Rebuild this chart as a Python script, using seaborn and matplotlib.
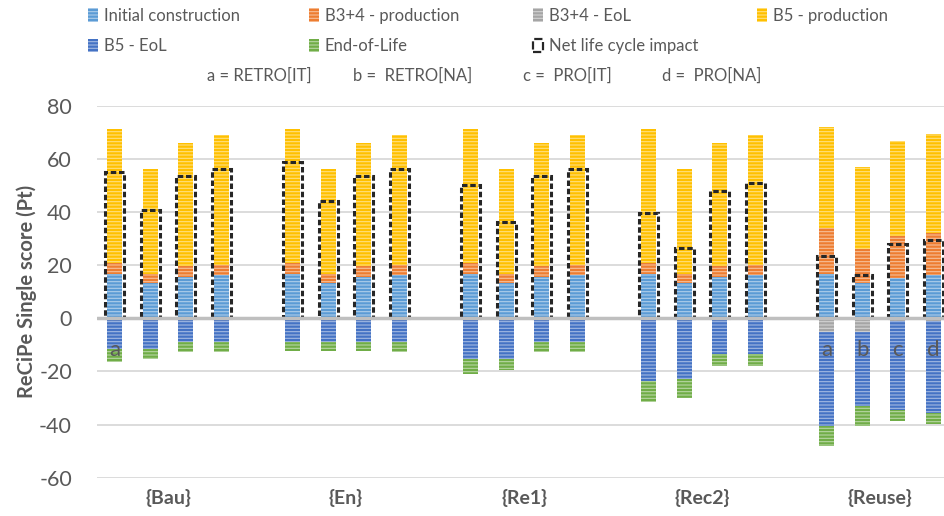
import pandas as pd
import seaborn as sns
import matplotlib.pyplot as plt
from matplotlib.patches import Patch

scenarios = ["{Bau}", "{En}", "{Re1}", "{Rec2}", "{Reuse}"]
variants = ["a", "b", "c", "d"]
variant_names = ["a = RETRO[IT]", "b =  RETRO[NA]", "c =  PRO[IT]", "d =  PRO[NA]"]

# values per scenario (rows) and variant a-d (columns), Pt
initial = [[16.6, 13.3, 15.5, 16.1],
           [16.6, 13.3, 15.5, 16.1],
           [16.6, 13.3, 15.5, 16.1],
           [16.6, 13.3, 15.5, 16.1],
           [16.6, 13.3, 15.1, 16.1]]
b34_prod = [[4.2, 3.3, 4.0, 4.0],
            [4.2, 3.3, 4.0, 4.0],
            [4.2, 3.3, 4.0, 4.0],
            [4.2, 3.3, 4.0, 4.0],
            [17.3, 12.7, 15.9, 15.9]]
b5_prod = [[50.6, 39.4, 46.6, 48.8],
           [50.6, 39.4, 46.6, 48.8],
           [50.6, 39.4, 46.6, 48.8],
           [50.6, 39.4, 46.6, 48.8],
           [38.1, 30.8, 35.8, 37.3]]
b34_eol = [[0, 0, 0, 0],
           [0, 0, 0, 0],
           [0, 0, 0, 0],
           [0, 0, 0, 0],
           [-5.2, -5.2, -1.0, -1.0]]
b5_eol = [[-11.7, -11.5, -9.0, -9.0],
          [-9.0, -9.0, -9.0, -9.0],
          [-15.5, -15.2, -9.0, -9.0],
          [-23.6, -22.7, -13.6, -13.6],
          [-35.3, -27.8, -33.6, -34.5]]
eol = [[-4.7, -4.0, -3.6, -3.6],
       [-3.4, -3.2, -3.4, -3.6],
       [-5.6, -4.3, -3.6, -3.6],
       [-7.9, -7.2, -4.4, -4.3],
       [-7.7, -7.5, -4.0, -4.4]]
net = [[54.9, 40.8, 53.5, 56.1],
       [58.9, 44.1, 53.6, 56.1],
       [50.1, 36.4, 53.5, 56.1],
       [39.8, 26.4, 48.0, 50.8],
       [23.6, 16.4, 28.0, 29.5]]

colors = {"Initial construction": "#5B9BD5", "B3+4 - production": "#ED7D31",
          "B3+4 - EoL": "#A5A5A5", "B5 - production": "#FFC000",
          "B5 - EoL": "#4472C4", "End-of-Life": "#70AD47"}

rows = []
for i, s in enumerate(scenarios):
    for j, v in enumerate(variants):
        rows.append(dict(scenario=s, variant=v,
                         ic=initial[i][j], p34=b34_prod[i][j], p5=b5_prod[i][j],
                         e34=b34_eol[i][j], e5=b5_eol[i][j], eol=eol[i][j],
                         net=net[i][j]))
df = pd.DataFrame(rows)
# cumulative stacks, drawn back to front
df["pos3"] = df.ic + df.p34 + df.p5
df["pos2"] = df.ic + df.p34
df["pos1"] = df.ic
df["neg3"] = df.e34 + df.e5 + df.eol
df["neg2"] = df.e34 + df.e5
df["neg1"] = df.e34

sns.set_theme(style="white")
plt.rcParams["font.family"] = ["Lato", "DejaVu Sans"]
plt.rcParams["hatch.linewidth"] = 0.8
plt.rcParams["axes.unicode_minus"] = False

fig = plt.figure(figsize=(9.45, 5.16), dpi=100)
ax = fig.add_axes([97 / 945, 38.3 / 516, 848 / 945, 372 / 516])

grey = "#595959"
stripe = (1, 1, 1, 0.5)

def layer(col, color):
    sns.barplot(data=df, x="scenario", y=col, hue="variant", order=scenarios,
                hue_order=variants, palette={v: color for v in variants},
                saturation=1, errorbar=None, width=0.8, gap=0.58, legend=False,
                hatch="-----", edgecolor=stripe, linewidth=0, ax=ax)

layer("pos3", colors["B5 - production"])
layer("pos2", colors["B3+4 - production"])
layer("pos1", colors["Initial construction"])
layer("neg3", colors["End-of-Life"])
layer("neg2", colors["B5 - EoL"])
layer("neg1", colors["B3+4 - EoL"])
ax.axhline(0, color="#BFBFBF", lw=2.5, zorder=1.5)

sns.barplot(data=df, x="scenario", y="net", hue="variant", order=scenarios,
            hue_order=variants, palette={v: "#262626" for v in variants},
            errorbar=None, width=0.8, gap=0.46, legend=False, fill=False,
            linewidth=2.2, linestyle=(0, (1.8, 0.9)), ax=ax)

# variant letters inside some bars
for i, s in enumerate(scenarios):
    for j, v in enumerate(variants):
        if s == "{Reuse}" or (s == "{Bau}" and v == "a"):
            ax.text(i - 0.3 + 0.2 * j, -12, v, ha="center", va="center",
                    fontsize=16, color=grey, zorder=5)

ax.set_xlim(-0.399, 4.365)
ax.set_ylim(-60, 80)
ax.set_yticks(range(-60, 81, 20))
ax.grid(axis="y", color="#D9D9D9", lw=1.3)
ax.set_axisbelow(True)
sns.despine(ax=ax, left=True, bottom=True)
ax.set_xlabel("")
ax.set_ylabel("")
ax.tick_params(axis="y", length=0, pad=18, labelsize=15.5, labelcolor=grey)
ax.tick_params(axis="x", length=0, pad=8, labelsize=14, labelcolor=grey)
for t in ax.get_xticklabels():
    t.set_fontweight("bold")

fig.text(27 / 945, 0.435, "ReCiPe Single score (Pt)", rotation=90,
         ha="center", va="center", fontsize=14.5, fontweight="bold", color=grey)

def handle(name):
    return Patch(facecolor=colors[name], edgecolor=stripe, hatch="-----", linewidth=0)

net_handle = Patch(facecolor="white", edgecolor="#262626", linestyle="--", linewidth=1.6)
columns = [(88, ["Initial construction", "B5 - EoL"]),
           (309, ["B3+4 - production", "End-of-Life"]),
           (533, ["B3+4 - EoL", "Net life cycle impact"]),
           (757, ["B5 - production"])]
for x, names in columns:
    hs = [net_handle if n == "Net life cycle impact" else handle(n) for n in names]
    fig.legend(hs, names, loc="upper left", bbox_to_anchor=(x / 945, 1 - 8 / 516),
               frameon=False, fontsize=12, labelcolor=grey, handlelength=0.6,
               handleheight=0.9, handletextpad=0.35, labelspacing=0.85,
               borderpad=0, borderaxespad=0)

for x, name in zip([207, 353, 523, 662], variant_names):
    fig.text(x / 945, 1 - 76 / 516, name, ha="left", va="center",
             fontsize=12, color=grey)

fig.savefig("out.png", dpi=100)
